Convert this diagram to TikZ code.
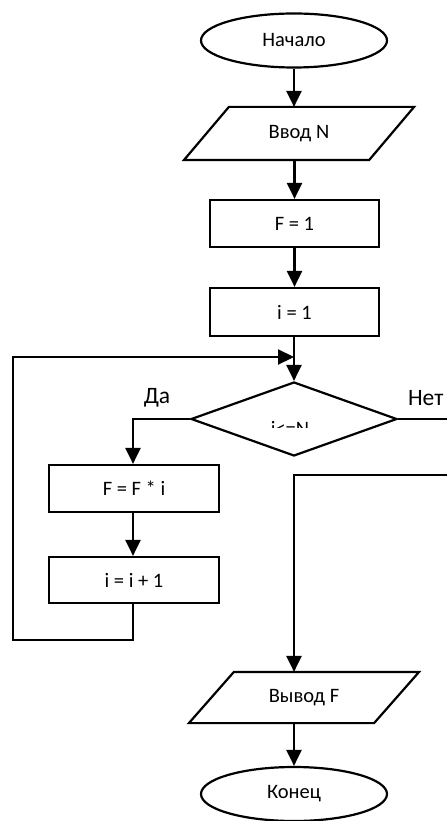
\documentclass[tikz,border=0pt]{standalone}
\usepackage{fontspec}
\setmainfont{Carlito}
\usetikzlibrary{shapes.geometric,arrows.meta}
\begin{document}
\begin{tikzpicture}[x=1pt,y=-1pt,
  line width=2.2pt,
  every node/.style={font=\fontsize{20.5}{24}\selectfont},
  term/.style={ellipse,draw,minimum width=186pt,minimum height=54pt,inner sep=0pt},
  proc/.style={rectangle,draw,minimum width=169pt,minimum height=47pt,inner sep=0pt},
  iobox/.style={rectangle,draw=none,minimum width=183pt,inner sep=0pt},
  decis/.style={diamond,draw,minimum width=206pt,minimum height=74pt,inner sep=0pt},
  lbl/.style={font=\fontsize{23.5}{27}\selectfont,inner sep=0pt},
  arr/.style={-{Triangle[length=16pt,width=15pt]}}]
\useasboundingbox (0,0) rectangle (447,821);
% nodes
\node[term] (start) at (294,40.5) {Начало};
\node[iobox,minimum height=51pt] (in) at (299,133.5) {Ввод N};
\draw ([xshift=22.5pt]in.north west) -- ([xshift=22.5pt]in.north east)
  -- ([xshift=-22.5pt]in.south east) -- ([xshift=-22.5pt]in.south west) -- cycle;
\node[proc] (f1) at (294.5,223.5) {F = 1};
\node[proc,minimum height=48pt] (i1) at (294.5,312) {i = 1};
\node[decis] (dec) at (294,419) {};
\begin{scope}
  \clip (240,405) rectangle (345,427.5);
  \node[anchor=base,inner sep=0pt] (cond) at (290,435) {i<=N};
\end{scope}
\node[lbl] (yes) at (157,398) {Да};
\node[lbl,anchor=west] (no) at (407,398) {Нет};
\node[proc,minimum width=170pt] (ffi) at (134,488.5) {F = F * i};
\node[proc,minimum width=170pt,minimum height=46pt] (inc) at (134,580) {i = i + 1};
\node[iobox,minimum height=49pt] (out) at (304,697.5) {Вывод F};
\draw ([xshift=22.5pt]out.north west) -- ([xshift=22.5pt]out.north east)
  -- ([xshift=-22.5pt]out.south east) -- ([xshift=-22.5pt]out.south west) -- cycle;
\node[term] (end) at (294,794) {Конец};
% coordinates
\coordinate (yesc) at (133,419);
\coordinate (loopa) at (133,640);
\coordinate (loopb) at (13,640);
\coordinate (loopc) at (13,357);
\coordinate (join) at (294,357);
\coordinate (noR) at (447,419);
\coordinate (noR2) at (447,475);
\coordinate (noL) at (294,475);
% connectors
\draw[arr] (start.south) -- (in.north -| start.south);
\draw[arr] (in.south -| f1.north) -- (f1.north);
\draw[arr] (f1) -- (i1);
\draw[arr] (i1.south -| dec.north) -- (dec.north);
\draw[arr] (dec.west) -- (yesc) -- (ffi.north -| yesc);
\draw[arr] (ffi.south -| yesc) -- (inc.north -| yesc);
\draw[arr] (inc.south -| yesc) -- (loopa) -- (loopb) -- (loopc) -- (join);
\draw (dec.east) -- (noR);
\draw[arr] (noR2) -- (noL) -- (out.north -| noL);
\draw[arr] (out.south -| end.north) -- (end.north);
\end{tikzpicture}
\end{document}
